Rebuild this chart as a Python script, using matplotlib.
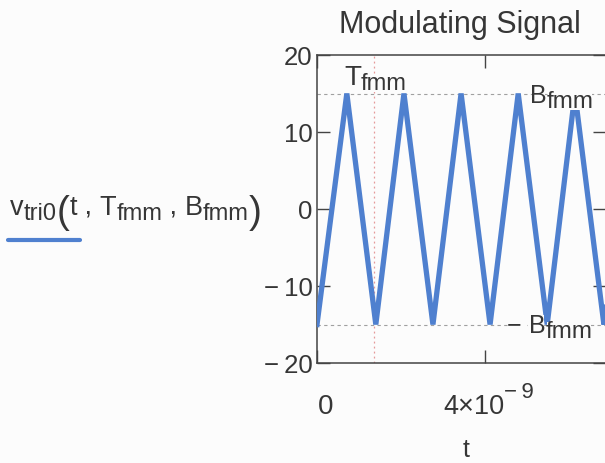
import matplotlib
matplotlib.use("Agg")
import matplotlib.pyplot as plt
from matplotlib.lines import Line2D
from matplotlib.transforms import IdentityTransform

# Triangle-wave vertices (time in ns, amplitude)
t_vertex_ns = [0.00, 0.71, 1.40, 2.07, 2.76, 3.43, 4.12, 4.79, 5.48, 6.14, 6.83, 7.50]
v_vertex = [-15, 15, -15, 15, -15, 15, -15, 15, -15, 15, -15, 15]

T_fmm = 1.36e-9   # period marker
B_fmm = 15        # amplitude

x_ticks = [0, 4e-9]
y_ticks = [-20, -10, 0, 10, 20]
y_tick_labels = ["\u2212\u200920", "\u2212\u200910", "0", "10", "20"]

W, H = 605, 464
BLUE = "#4f80cf"
TXT = "#363636"
BG = "#fcfcfc"
FONT = "Liberation Sans"

plt.rcParams["font.family"] = FONT

fig = plt.figure(figsize=(W / 100, H / 100), dpi=100, facecolor=BG)
ax = fig.add_axes([317 / W, 1 - 364 / H, 289 / W, 308 / H])
ax.set_facecolor(BG)

t_vertex = [t * 1e-9 for t in t_vertex_ns]
ax.plot(t_vertex, v_vertex, color=BLUE, lw=3.8, solid_joinstyle="miter", zorder=3)

ax.axhline(B_fmm, color="#a0a0a0", lw=0.8, ls=(0, (3, 3)), zorder=2)
ax.axhline(-B_fmm, color="#a0a0a0", lw=0.8, ls=(0, (3, 3)), zorder=2)
ax.axvline(T_fmm, color="#e59a9a", lw=0.9, ls=(0, (1.5, 2.5)), zorder=2)

ax.set_xlim(0, 6.88e-9)
ax.set_ylim(-20, 20)
ax.set_xticks(x_ticks)
ax.set_xticklabels([])
ax.set_yticks(y_ticks)
ax.set_yticklabels(y_tick_labels)
ax.tick_params(axis="both", direction="in", length=9.5, width=1.0, color="#444444",
               top=True, right=True)
ax.tick_params(axis="y", labelsize=18.5, labelcolor=TXT, pad=3)
for s in ax.spines.values():
    s.set_color("#444444")
    s.set_linewidth(1.1)

renderer = fig.canvas.get_renderer()


def text_run(pieces, x, y, opaque=False, color=TXT):
    """Lay out text pieces left to right; y is the baseline in pixels from top.
    Each piece is (string, fontsize, baseline_shift_px)."""
    for s, size, dy in pieces:
        kw = {}
        if opaque:
            kw["bbox"] = dict(facecolor=BG, edgecolor="none", pad=-1.2)
        t = fig.text(x, H - (y + dy), s, transform=IdentityTransform(),
                     ha="left", va="baseline", fontsize=size, color=color,
                     family=FONT, zorder=5, **kw)
        bb = t.get_window_extent(renderer)
        x = bb.x1


# title
fig.text(460, H - 33, "Modulating Signal", transform=IdentityTransform(),
         ha="center", va="baseline", fontsize=22, color=TXT)

# x tick labels and axis label
text_run([("0", 20, 0)], 318, 414)
text_run([("4\u00d710", 19.5, 0)], 443, 414)
text_run([("\u2212\u20099", 16, 0)], 504, 398)
fig.text(466, H - 457, "t", transform=IdentityTransform(), ha="center",
         va="baseline", fontsize=18, color=TXT)

# marker annotations
text_run([("T", 20, 0), ("fmm", 17, 5)], 344, 85, opaque=True)
text_run([("B", 18, 0), ("fmm", 17.5, 5)], 530, 103, opaque=True)
text_run([("\u2212 ", 18, 0), ("B", 18, 0), ("fmm", 17.5, 5)], 507, 333, opaque=True)

# trace label
text_run([("v", 19.5, 0), ("tri0", 17, 5), ("(", 28, 8), ("t", 19.5, 0), (" , ", 19.5, 0),
          ("T", 19.5, 0), ("fmm", 17, 5), (" , ", 19.5, 0), ("B", 19.5, 0), ("fmm", 17, 5),
          (")", 28, 8)], 10, 215)
fig.add_artist(Line2D([8, 80], [H - 241, H - 241], transform=IdentityTransform(),
                      color=BLUE, lw=3.0, solid_capstyle="round"))

fig.savefig("out.png", dpi=100, facecolor=BG)
